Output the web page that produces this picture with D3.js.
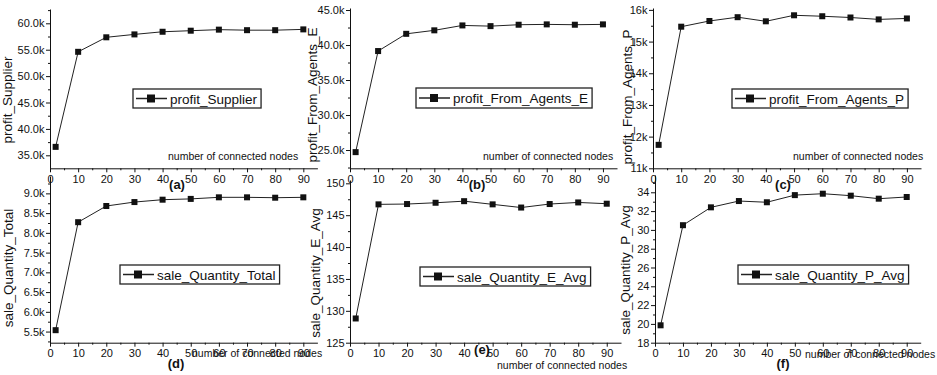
<!DOCTYPE html>
<html>
<head>
<meta charset="utf-8">
<script src="https://cdn.jsdelivr.net/npm/d3@7/dist/d3.min.js"></script>
<style>
    body { margin: 0; background: #fff; }
    svg text { font-family: Arial, "Liberation Sans", sans-serif; fill: #111; }
    .domain, .tick line { stroke: #111; stroke-width: 1; }
</style>
</head>
<body>
<div id="chart"></div>
<script>
// x values (number of connected nodes)
var nodes = [2, 10, 20, 30, 40, 50, 60, 70, 80, 90];
var xTicks = [0, 10, 20, 30, 40, 50, 60, 70, 80, 90];

// series values
var profitSupplier = [36600, 54600, 57350, 57900, 58400, 58600, 58800, 58700, 58700, 58850];
var profitAgentsE = [24700, 39140, 41600, 42100, 42800, 42700, 42900, 42950, 42900, 42950];
var profitAgentsP = [11740, 15470, 15650, 15770, 15640, 15830, 15800, 15760, 15700, 15730];
var saleTotal = [5535, 8270, 8680, 8780, 8840, 8860, 8900, 8900, 8890, 8900];
var saleAvgE = [128.8, 146.7, 146.75, 146.95, 147.2, 146.7, 146.2, 146.75, 147.0, 146.8];
var saleAvgP = [19.85, 30.5, 32.4, 33.07, 32.94, 33.7, 33.85, 33.64, 33.32, 33.5];

// tick labels of the y axes
var yTicksA = [35000, 40000, 45000, 50000, 55000, 60000];
var yTicksB = [25000, 30000, 35000, 40000, 45000];
var yTicksC = [11000, 12000, 13000, 14000, 15000, 16000];
var yTicksD = [5500, 6000, 6500, 7000, 7500, 8000, 8500, 9000];
var yTicksE = [125, 130, 135, 140, 145, 150];
var yTicksF = [18, 20, 22, 24, 26, 28, 30, 32, 34];

var seriesNames = ['profit_Supplier', 'profit_From_Agents_E', 'profit_From_Agents_P',
    'sale_Quantity_Total', 'sale_Quantity_E_Avg', 'sale_Quantity_P_Avg'];
var panelTags = ['(a)', '(b)', '(c)', '(d)', '(e)', '(f)'];
var xTitle = 'number of connected nodes';

var width = 937, height = 375;

var kOne = function (v) { return d3.format('.1f')(v / 1000) + 'k'; },
    kInt = function (v) { return d3.format('d')(v / 1000) + 'k'; },
    plain = d3.format('d');

// one entry per small plot (layout only, values come from the arrays above)
var panels = [
    { values: profitSupplier, ticks: yTicksA, fmt: kOne, minor: 2500, dom: [32540, 62710],
      l: 50, r: 317.4, b: 168.3, t: 9, tag: [177, 189], xt: [168, 160], yl: [12, 100], lg: [133, 89, 19] },
    { values: profitAgentsE, ticks: yTicksB, fmt: kOne, minor: 2500, dom: [22390, 45290],
      l: 350, r: 617, b: 168.3, t: 8, tag: [477, 189], xt: [483, 160], yl: [317, 95], lg: [416, 88, 20] },
    { values: profitAgentsP, ticks: yTicksC, fmt: kInt, minor: 500, dom: [11000, 16060],
      l: 653, r: 921, b: 168.3, t: 8, tag: [783, 189], xt: [793, 160], yl: [632, 97], lg: [732, 89, 19] },
    { values: saleTotal, ticks: yTicksD, fmt: kOne, minor: 250, dom: [5218, 9440],
      l: 50, r: 317.4, b: 342.7, t: 176, tag: [176, 368], xt: [192, 357], yl: [12.5, 268], lg: [120, 265, 19] },
    { values: saleAvgE, ticks: yTicksE, fmt: plain, minor: 2.5, dom: [125, 150.52],
      l: 350, r: 621, b: 342.7, t: 180, tag: [482, 354], xt: [497, 369], yl: [320, 273], lg: [420, 267, 19] },
    { values: saleAvgP, ticks: yTicksF, fmt: plain, minor: 1, dom: [18, 35.84],
      l: 655, r: 920.7, b: 342.7, t: 175, tag: [783, 368], xt: [805, 358], yl: [630, 270], lg: [738, 265, 19] }
];

var svg = d3.select('#chart')
    .append('svg')
    .attr('width', width)
    .attr('height', height);

panels.forEach(function (p, i) {
    var x = d3.scaleLinear().domain([0, 95]).range([p.l, p.r]),
        y = d3.scaleLinear().domain(p.dom).range([p.b, p.t]),
        g = svg.append('g');

    // minor ticks first, no labels
    g.append('g')
        .attr('transform', 'translate(0,' + p.b + ')')
        .call(d3.axisBottom(x).tickValues(d3.range(5, 95, 10)).tickSize(2).tickFormat(''))
        .select('.domain').remove();
    var yMinor = d3.range(p.ticks[0] - p.minor, p.dom[1], p.minor * 2)
        .filter(function (v) { return v > p.dom[0]; });
    g.append('g')
        .attr('transform', 'translate(' + p.l + ',0)')
        .call(d3.axisLeft(y).tickValues(yMinor).tickSize(2).tickFormat(''))
        .select('.domain').remove();

    // main axes
    var xa = g.append('g')
        .attr('transform', 'translate(0,' + p.b + ')')
        .call(d3.axisBottom(x).tickValues(xTicks).tickSize(4).tickSizeOuter(0).tickPadding(3));
    xa.selectAll('text').attr('font-size', 11);
    var ya = g.append('g')
        .attr('transform', 'translate(' + p.l + ',0)')
        .call(d3.axisLeft(y).tickValues(p.ticks).tickFormat(p.fmt).tickSize(4).tickSizeOuter(0).tickPadding(1.5));
    ya.selectAll('text').attr('font-size', 11);

    // the line and square markers
    var line = d3.line()
        .x(function (d, j) { return x(nodes[j]); })
        .y(function (d) { return y(d); });
    g.append('path')
        .datum(p.values)
        .attr('d', line)
        .attr('fill', 'none')
        .attr('stroke', '#222')
        .attr('stroke-width', 1);
    g.selectAll('.pt')
        .data(p.values)
        .enter().append('rect')
        .attr('class', 'pt')
        .attr('x', function (d, j) { return x(nodes[j]) - 3; })
        .attr('y', function (d) { return y(d) - 3; })
        .attr('width', 6)
        .attr('height', 6)
        .attr('fill', '#111');

    // y axis title
    g.append('text')
        .attr('transform', 'translate(' + p.yl[0] + ',' + p.yl[1] + ') rotate(-90)')
        .attr('text-anchor', 'middle')
        .attr('font-size', 13.5)
        .text(seriesNames[i]);

    // x axis title
    g.append('text')
        .attr('x', p.xt[0])
        .attr('y', p.xt[1])
        .attr('font-size', 10.5)
        .text(xTitle);

    // legend box
    var lx = p.lg[0], ly = p.lg[1], lh = p.lg[2],
        leg = g.append('g');
    var box = leg.append('rect')
        .attr('x', lx)
        .attr('y', ly)
        .attr('height', lh)
        .attr('fill', '#fff')
        .attr('stroke', '#222')
        .attr('stroke-width', 1.3);
    var lt = leg.append('text')
        .attr('x', lx + 37)
        .attr('y', ly + lh / 2 + 5)
        .attr('font-size', 13.5)
        .text(seriesNames[i]);
    box.attr('width', 37 + lt.node().getComputedTextLength() + 4);
    leg.append('line')
        .attr('x1', lx + 3).attr('x2', lx + 34)
        .attr('y1', ly + lh / 2).attr('y2', ly + lh / 2)
        .attr('stroke', '#222')
        .attr('stroke-width', 1.5);
    leg.append('rect')
        .attr('x', lx + 14).attr('y', ly + lh / 2 - 4)
        .attr('width', 8).attr('height', 8)
        .attr('fill', '#111');

    // panel tag
    g.append('text')
        .attr('x', p.tag[0])
        .attr('y', p.tag[1])
        .attr('text-anchor', 'middle')
        .attr('font-size', 13)
        .attr('font-weight', 'bold')
        .text(panelTags[i]);
});
</script>
</body>
</html>
